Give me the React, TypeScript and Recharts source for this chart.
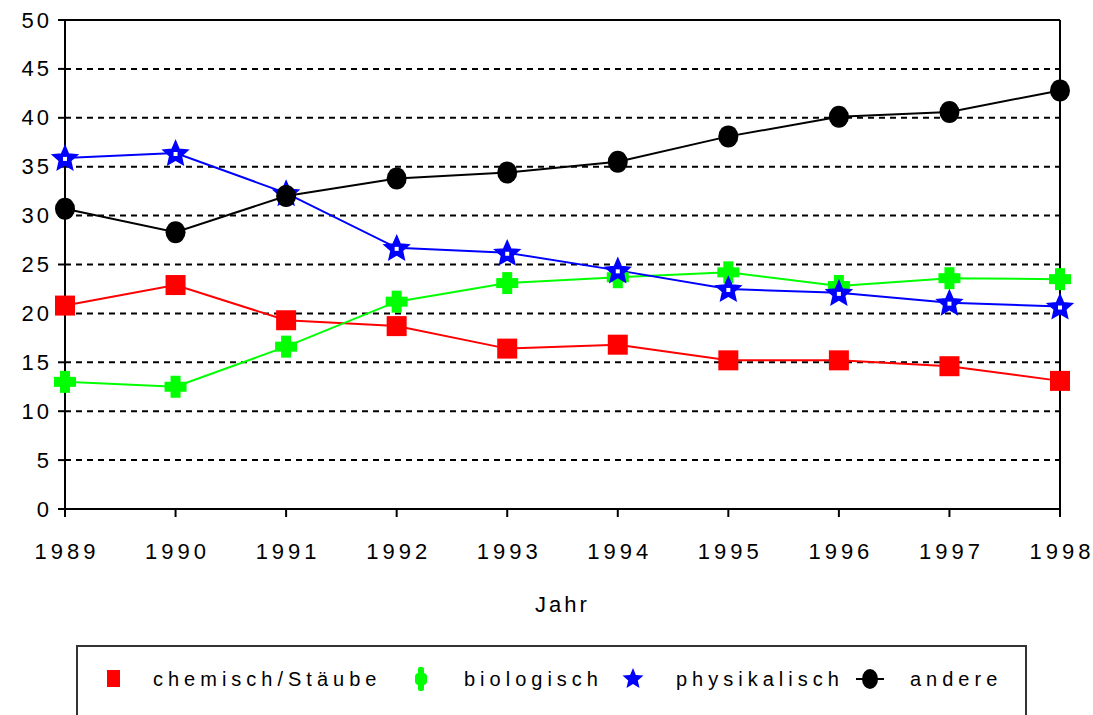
import { LineChart, Line, XAxis, YAxis, CartesianGrid, ReferenceLine } from "recharts";

const years = ["1989", "1990", "1991", "1992", "1993", "1994", "1995", "1996", "1997", "1998"];
const chemisch = [20.8, 22.9, 19.3, 18.7, 16.4, 16.8, 15.2, 15.2, 14.6, 13.1];
const biologisch = [13.0, 12.5, 16.6, 21.2, 23.1, 23.7, 24.2, 22.8, 23.6, 23.5];
const physikalisch = [35.9, 36.4, 32.3, 26.7, 26.2, 24.4, 22.5, 22.1, 21.1, 20.7];
const andere = [30.7, 28.3, 32.0, 33.8, 34.4, 35.5, 38.1, 40.1, 40.6, 42.8];
const yTicks = [0, 5, 10, 15, 20, 25, 30, 35, 40, 45, 50];

const data = years.map((y, i) => ({
  year: y,
  chemisch: chemisch[i],
  biologisch: biologisch[i],
  physikalisch: physikalisch[i],
  andere: andere[i],
}));

const FONT = "'Liberation Sans', Arial, sans-serif";

function starPath(cx: number, cy: number, ro: number, ri: number) {
  let d = "";
  for (let k = 0; k < 10; k++) {
    const r = k % 2 === 0 ? ro : ri;
    const a = -Math.PI / 2 + (k * Math.PI) / 5;
    d += (k === 0 ? "M" : "L") + (cx + r * Math.cos(a)).toFixed(1) + "," + (cy + r * Math.sin(a)).toFixed(1);
  }
  return d + "Z";
}

const SquareDot = (p: any) =>
  p.cx == null ? null : <rect key={p.index} x={p.cx - 10} y={p.cy - 10} width={20} height={20} fill="#ff0000" />;

const PlusDot = (p: any) =>
  p.cx == null ? null : (
    <g key={p.index}>
      <rect x={p.cx - 5} y={p.cy - 11} width={10} height={22} fill="#00ff00" />
      <rect x={p.cx - 11} y={p.cy - 5} width={22} height={10} fill="#00ff00" />
    </g>
  );

const StarDot = (p: any) =>
  p.cx == null ? null : (
    <g key={p.index}>
      <path d={starPath(p.cx, p.cy + 1, 13, 6)} fill="#0000ff" stroke="#0000ff" strokeWidth={1.5} strokeLinejoin="miter" />
      <rect x={p.cx - 2} y={p.cy - 1} width={4} height={4} fill="#fff" />
    </g>
  );

const CircleDot = (p: any) =>
  p.cx == null ? null : <ellipse key={p.index} cx={p.cx} cy={p.cy} rx={10} ry={11} fill="#000" />;

const YTick = ({ x, y, payload }: any) => (
  <text x={x - 4} y={y} textAnchor="end" dominantBaseline="central" fontFamily={FONT} fontSize={22} letterSpacing={3} fill="#000">
    {payload.value}
  </text>
);

const XTick = ({ x, y, payload }: any) => (
  <text x={x + 2} y={y + 40} textAnchor="middle" fontFamily={FONT} fontSize={22} letterSpacing={4} fill="#000">
    {payload.value}
  </text>
);

const legendItems = [
  { label: "chemisch/Stäube", x: 107, text: 153, kind: "square" },
  { label: "biologisch", x: 421, text: 464, kind: "plus" },
  { label: "physikalisch", x: 633, text: 676, kind: "star" },
  { label: "andere", x: 870, text: 910, kind: "circle" },
];

function LegendIcon({ kind }: { kind: string }) {
  if (kind === "square") return <rect x={0} y={7} width={13} height={17} fill="#ff0000" />;
  if (kind === "plus")
    return (
      <g>
        <rect x={-3} y={4} width={6} height={24} fill="#00ff00" rx={2} />
        <rect x={-6} y={10} width={12} height={12} fill="#00ff00" rx={4} />
      </g>
    );
  if (kind === "star") return <path d={starPath(0, 16, 11, 5)} fill="#0000ff" />;
  return (
    <g>
      <line x1={-14} y1={16} x2={14} y2={16} stroke="#000" strokeWidth={2} />
      <ellipse cx={0} cy={16} rx={8} ry={10} fill="#000" />
    </g>
  );
}

export default function App() {
  return (
    <div style={{ position: "absolute", left: 0, top: 0, width: 1093, height: 715, background: "#fff" }}>
      <LineChart width={1093} height={715} data={data} margin={{ top: 20, right: 33, left: 0, bottom: 0 }}>
        <CartesianGrid horizontal vertical={false} stroke="#000" strokeWidth={2} strokeDasharray="6 5" />
        <XAxis
          dataKey="year"
          height={206}
          stroke="#000"
          strokeWidth={2}
          tickSize={8}
          tick={<XTick />}
          interval={0}
          label={{ value: "Jahr", position: "insideBottom", offset: 103, fontFamily: FONT, fontSize: 22, letterSpacing: 3, fill: "#000" }}
        />
        <YAxis
          width={65}
          domain={[0, 50]}
          ticks={yTicks}
          interval={0}
          stroke="#000"
          strokeWidth={2}
          tickSize={7}
          tick={<YTick />}
        />
        <ReferenceLine y={50} stroke="#000" strokeWidth={2} />
        <ReferenceLine x="1998" stroke="#000" strokeWidth={2} />
        <Line dataKey="chemisch" stroke="#ff0000" strokeWidth={2} type="linear" dot={SquareDot} isAnimationActive={false} />
        <Line dataKey="biologisch" stroke="#00ff00" strokeWidth={2} type="linear" dot={PlusDot} isAnimationActive={false} />
        <Line dataKey="physikalisch" stroke="#0000ff" strokeWidth={2} type="linear" dot={StarDot} isAnimationActive={false} />
        <Line dataKey="andere" stroke="#000" strokeWidth={2} type="linear" dot={CircleDot} isAnimationActive={false} />
      </LineChart>
      <div
        style={{
          position: "absolute",
          left: 76,
          top: 645,
          width: 951,
          height: 70,
          border: "2px solid #333",
          borderBottom: "none",
          boxSizing: "border-box",
        }}
      >
        <svg width={951} height={70} style={{ position: "absolute", left: -2, top: -2 }}>
          {legendItems.map((it) => (
            <g key={it.label}>
              <g transform={`translate(${it.x - 76},${18})`}>
                <LegendIcon kind={it.kind} />
              </g>
              <text
                x={it.text - 76}
                y={41}
                fontFamily={FONT}
                fontSize={20}
                letterSpacing={5}
                fill="#000"
              >
                {it.label}
              </text>
            </g>
          ))}
        </svg>
      </div>
    </div>
  );
}
